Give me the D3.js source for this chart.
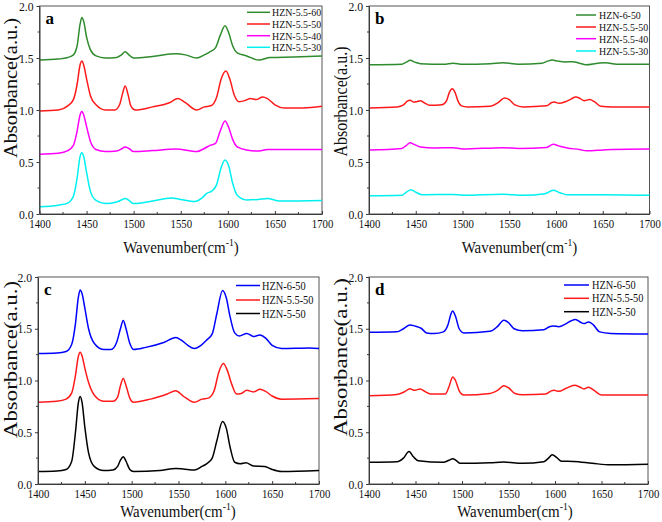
<!DOCTYPE html>
<html><head><meta charset="utf-8">
<script src="https://cdn.jsdelivr.net/npm/d3@7"></script>
<style>body{margin:0;background:#fff}svg{display:block}text{font-family:"Liberation Serif","Times New Roman",serif}</style>
</head><body><svg id="c" width="662" height="522"></svg>
<script>
// ---------- data ----------
const xTicks = [1400,1450,1500,1550,1600,1650,1700];
const yTicks = [0.0,0.5,1.0,1.5,2.0];
const panelLabels = ["a","b","c","d"];

const namesA = ["HZN-5.5-60","HZN-5.5-50","HZN-5.5-40","HZN-5.5-30"];
const namesB = ["HZN-6-50","HZN-5.5-50","HZN-5.5-40","HZN-5.5-30"];
const namesCD = ["HZN-6-50","HZN-5.5-50","HZN-5-50"];

const a_5560 = [[1400,1.48],[1420,1.49],[1430,1.505],[1436,1.53],[1440,1.62],[1443,1.82],[1445,1.89],[1447,1.85],[1450,1.70],[1454,1.58],[1460,1.52],[1470,1.50],[1482,1.505],[1487,1.53],[1491,1.56],[1495,1.53],[1500,1.50],[1520,1.515],[1545,1.54],[1555,1.53],[1567,1.50],[1575,1.53],[1581,1.56],[1587,1.60],[1592,1.72],[1597,1.81],[1601,1.74],[1605,1.62],[1610,1.55],[1620,1.52],[1633,1.48],[1645,1.505],[1670,1.51],[1700,1.52]];
const a_5550 = [[1400,0.99],[1420,1.00],[1430,1.04],[1436,1.10],[1440,1.25],[1443,1.43],[1445,1.47],[1447,1.43],[1450,1.30],[1454,1.14],[1460,1.05],[1470,1.00],[1480,1.00],[1485,1.05],[1488,1.15],[1491,1.23],[1494,1.15],[1497,1.04],[1502,1.00],[1520,1.03],[1538,1.07],[1547,1.11],[1555,1.07],[1567,1.00],[1575,1.03],[1582,1.04],[1588,1.12],[1593,1.30],[1598,1.375],[1602,1.30],[1607,1.14],[1612,1.08],[1618,1.09],[1624,1.11],[1630,1.10],[1637,1.125],[1642,1.11],[1650,1.05],[1660,1.02],[1680,1.02],[1700,1.035]];
const a_5540 = [[1400,0.575],[1420,0.585],[1430,0.61],[1436,0.66],[1440,0.80],[1443,0.95],[1445,0.985],[1447,0.95],[1450,0.84],[1454,0.70],[1460,0.62],[1470,0.60],[1482,0.605],[1487,0.625],[1491,0.645],[1495,0.63],[1500,0.60],[1520,0.61],[1545,0.625],[1567,0.60],[1575,0.63],[1581,0.66],[1587,0.68],[1592,0.80],[1597,0.895],[1601,0.83],[1605,0.72],[1610,0.645],[1620,0.615],[1633,0.605],[1642,0.62],[1670,0.62],[1700,0.62]];
const a_5530 = [[1400,0.07],[1420,0.085],[1430,0.105],[1436,0.17],[1440,0.35],[1443,0.55],[1445,0.59],[1447,0.55],[1450,0.40],[1454,0.22],[1460,0.13],[1470,0.10],[1482,0.115],[1487,0.135],[1491,0.15],[1495,0.13],[1500,0.10],[1520,0.125],[1540,0.155],[1550,0.14],[1565,0.12],[1572,0.15],[1578,0.20],[1583,0.22],[1588,0.28],[1593,0.45],[1597,0.52],[1601,0.46],[1605,0.30],[1610,0.18],[1620,0.135],[1632,0.14],[1642,0.15],[1655,0.125],[1700,0.13]];

const b_650 = [[1400,1.435],[1435,1.44],[1440,1.46],[1444,1.478],[1449,1.46],[1455,1.445],[1480,1.44],[1490,1.45],[1500,1.44],[1530,1.445],[1543,1.455],[1560,1.44],[1585,1.45],[1591,1.47],[1596,1.48],[1602,1.47],[1610,1.462],[1618,1.465],[1625,1.45],[1632,1.435],[1645,1.45],[1653,1.455],[1665,1.44],[1700,1.44]];
const b_5550 = [[1400,1.02],[1430,1.03],[1437,1.05],[1441,1.085],[1444,1.093],[1448,1.075],[1451,1.08],[1455,1.09],[1459,1.07],[1465,1.045],[1478,1.05],[1483,1.09],[1486,1.17],[1489,1.205],[1492,1.17],[1495,1.09],[1499,1.04],[1505,1.03],[1530,1.035],[1538,1.07],[1545,1.115],[1550,1.10],[1556,1.05],[1565,1.03],[1590,1.04],[1595,1.07],[1598,1.078],[1603,1.065],[1610,1.08],[1616,1.105],[1621,1.125],[1626,1.11],[1630,1.09],[1636,1.10],[1641,1.08],[1648,1.035],[1660,1.03],[1700,1.03]];
const b_5540 = [[1400,0.615],[1435,0.63],[1440,0.66],[1444,0.686],[1448,0.67],[1455,0.645],[1470,0.635],[1490,0.638],[1500,0.625],[1543,0.638],[1560,0.63],[1590,0.64],[1597,0.67],[1603,0.655],[1612,0.635],[1625,0.62],[1633,0.607],[1650,0.615],[1660,0.62],[1700,0.625]];
const b_5530 = [[1400,0.175],[1435,0.18],[1440,0.21],[1445,0.234],[1450,0.21],[1457,0.185],[1490,0.188],[1500,0.18],[1543,0.19],[1565,0.18],[1588,0.195],[1597,0.228],[1604,0.205],[1612,0.185],[1650,0.185],[1700,0.18]];

const c_650 = [[1400,1.26],[1420,1.265],[1430,1.28],[1436,1.35],[1440,1.55],[1443,1.80],[1445,1.875],[1447,1.84],[1450,1.70],[1454,1.50],[1460,1.36],[1470,1.30],[1478,1.30],[1484,1.37],[1488,1.50],[1491,1.58],[1494,1.50],[1498,1.36],[1502,1.30],[1515,1.32],[1535,1.37],[1547,1.415],[1553,1.39],[1560,1.34],[1567,1.31],[1574,1.34],[1580,1.39],[1586,1.45],[1591,1.65],[1597,1.87],[1601,1.80],[1605,1.62],[1610,1.46],[1615,1.43],[1623,1.455],[1630,1.425],[1637,1.44],[1643,1.41],[1650,1.34],[1660,1.31],[1690,1.315],[1700,1.31]];
const c_5550 = [[1400,0.79],[1420,0.80],[1430,0.82],[1436,0.88],[1440,1.05],[1443,1.23],[1445,1.273],[1447,1.24],[1450,1.12],[1454,0.98],[1460,0.86],[1470,0.80],[1480,0.80],[1485,0.84],[1488,0.95],[1491,1.02],[1494,0.95],[1498,0.83],[1502,0.79],[1520,0.82],[1538,0.87],[1547,0.90],[1555,0.85],[1567,0.79],[1575,0.82],[1582,0.83],[1588,0.90],[1593,1.08],[1598,1.164],[1602,1.10],[1607,0.96],[1612,0.87],[1617,0.875],[1623,0.905],[1630,0.89],[1637,0.915],[1643,0.895],[1650,0.85],[1660,0.82],[1700,0.825]];
const c_550 = [[1400,0.12],[1420,0.125],[1430,0.14],[1436,0.22],[1440,0.50],[1443,0.78],[1445,0.846],[1447,0.79],[1450,0.55],[1454,0.30],[1460,0.17],[1470,0.13],[1480,0.135],[1485,0.17],[1488,0.23],[1491,0.264],[1494,0.22],[1498,0.14],[1502,0.12],[1530,0.13],[1547,0.15],[1555,0.145],[1567,0.135],[1575,0.17],[1580,0.195],[1586,0.25],[1591,0.42],[1597,0.605],[1601,0.54],[1605,0.36],[1610,0.21],[1616,0.195],[1622,0.205],[1630,0.175],[1642,0.17],[1650,0.14],[1660,0.12],[1700,0.13]];

const d_650 = [[1400,1.465],[1430,1.47],[1437,1.50],[1444,1.537],[1450,1.525],[1456,1.505],[1462,1.46],[1470,1.455],[1480,1.47],[1485,1.54],[1488,1.64],[1490,1.672],[1493,1.62],[1497,1.50],[1502,1.46],[1530,1.475],[1538,1.52],[1545,1.582],[1550,1.56],[1556,1.50],[1565,1.48],[1588,1.49],[1594,1.52],[1598,1.527],[1604,1.52],[1612,1.55],[1617,1.575],[1622,1.59],[1628,1.56],[1631,1.55],[1636,1.565],[1641,1.54],[1648,1.47],[1660,1.455],[1700,1.45]];
const d_5550 = [[1400,0.852],[1430,0.865],[1438,0.89],[1444,0.92],[1449,0.905],[1455,0.918],[1460,0.895],[1466,0.87],[1482,0.87],[1486,0.94],[1490,1.035],[1493,1.00],[1497,0.90],[1502,0.86],[1530,0.875],[1539,0.91],[1545,0.949],[1550,0.93],[1557,0.875],[1565,0.862],[1590,0.87],[1596,0.90],[1599,0.905],[1604,0.895],[1612,0.925],[1621,0.955],[1627,0.935],[1631,0.918],[1636,0.935],[1642,0.905],[1650,0.86],[1700,0.86]];
const d_550 = [[1400,0.21],[1430,0.215],[1437,0.25],[1443,0.315],[1448,0.26],[1453,0.225],[1480,0.21],[1486,0.23],[1490,0.245],[1494,0.225],[1498,0.20],[1530,0.205],[1545,0.212],[1565,0.20],[1588,0.215],[1593,0.25],[1597,0.283],[1602,0.255],[1607,0.22],[1620,0.218],[1640,0.20],[1660,0.185],[1700,0.19]];

// ---------- layout / style ----------
const GREEN="#2e8b2e", RED="#ff1a1a", MAG="#ff00ff", CYAN="#00f0f0", BLUE="#0000ff", BLACK="#000000";
const panels = [
  {label:panelLabels[0], x0:39.5, x1:322, yb:214, yt:6, names:namesA, series:[a_5560,a_5550,a_5540,a_5530], colors:[GREEN,RED,MAG,CYAN],
   leg:{lx0:247, lx1:270, tx:272, ys:[12.3,24,35.7,47.3], fs:11}, ytitle:{x:17,cy:88,len:140}, xtitle:{cx:181,y:252.5}},
  {label:panelLabels[1], x0:369, x1:649.5, yb:214, yt:6, names:namesB, series:[b_650,b_5550,b_5540,b_5530], colors:[GREEN,RED,MAG,CYAN],
   leg:{lx0:576, lx1:596, tx:599, ys:[15,27,38.7,51], fs:11}, ytitle:{x:347,cy:101.5,len:110}, xtitle:{cx:519.5,y:252.5}},
  {label:panelLabels[2], x0:38, x1:319, yb:484, yt:277, names:namesCD, series:[c_650,c_5550,c_550], colors:[BLUE,RED,BLACK],
   leg:{lx0:236, lx1:260, tx:262, ys:[285.5,300,313.5], fs:11.5}, ytitle:{x:17,cy:359.5,len:157}, xtitle:{cx:178,y:516.5}},
  {label:panelLabels[3], x0:369, x1:648, yb:484, yt:277, names:namesCD, series:[d_650,d_5550,d_550], colors:[BLUE,RED,BLACK],
   leg:{lx0:564, lx1:589, tx:592, ys:[285,298.3,311.7], fs:11.5}, ytitle:{x:347,cy:357,len:158}, xtitle:{cx:515,y:516.5}}
];

const svg = d3.select("#c");
const AX="#3a3a3a";

function squeeze(sel, f){ sel.each(function(){ const w=this.getComputedTextLength(); this.setAttribute("textLength", w*f); this.setAttribute("lengthAdjust","spacingAndGlyphs");}); }

panels.forEach(p=>{
  const x = d3.scaleLinear().domain([1400,1700]).range([p.x0,p.x1]);
  const y = d3.scaleLinear().domain([0,2]).range([p.yb,p.yt]);
  const g = svg.append("g");

  g.append("rect").attr("x",p.x0).attr("y",p.yt).attr("width",p.x1-p.x0).attr("height",p.yb-p.yt)
    .attr("fill","none").attr("stroke","#555").attr("stroke-width",1);

  const line = d3.line().x(d=>x(d[0])).y(d=>y(d[1])).curve(d3.curveMonotoneX);
  p.series.forEach((s,i)=>{
    g.append("path").datum(s).attr("d",line).attr("fill","none").attr("stroke",p.colors[i]).attr("stroke-width",1.5);
  });

  const xa = g.append("g").attr("transform",`translate(0,${p.yb})`)
    .call(d3.axisBottom(x).tickValues(xTicks).tickFormat(d3.format("d")).tickSizeInner(-3).tickSizeOuter(0).tickPadding(5));
  xa.select(".domain").attr("stroke",AX);
  xa.selectAll(".tick line").attr("stroke",AX);
  xa.selectAll("text").attr("font-size",12.5).attr("fill","#111").attr("font-family","Liberation Serif");
  const xminor = d3.range(1425,1700,50);
  g.selectAll(null).data(xminor).enter().append("line")
    .attr("x1",d=>x(d)).attr("x2",d=>x(d)).attr("y1",p.yb).attr("y2",p.yb-2).attr("stroke",AX);

  const ya = g.append("g").attr("transform",`translate(${p.x0},0)`)
    .call(d3.axisLeft(y).tickValues(yTicks).tickFormat(d3.format(".1f")).tickSizeInner(3).tickSizeOuter(0).tickPadding(3));
  ya.select(".domain").attr("stroke",AX);
  ya.selectAll(".tick line").attr("stroke",AX);
  ya.selectAll("text").attr("font-size",13).attr("fill","#111").attr("font-family","Liberation Serif");
  const yminor = [0.25,0.75,1.25,1.75];
  g.selectAll(null).data(yminor).enter().append("line")
    .attr("x1",p.x0).attr("x2",p.x0-2).attr("y1",d=>y(d)).attr("y2",d=>y(d)).attr("stroke",AX);

  squeeze(xa.selectAll("text"),0.86);
  squeeze(ya.selectAll("text"),0.9);

  g.append("text").attr("x",p.x0+6).attr("y",p.yt+18).attr("font-size",17).attr("font-weight","bold").text(p.label);

  p.names.forEach((n,i)=>{
    g.append("line").attr("x1",p.leg.lx0).attr("x2",p.leg.lx1).attr("y1",p.leg.ys[i]).attr("y2",p.leg.ys[i])
      .attr("stroke",p.colors[i]).attr("stroke-width",1.5);
    const t = g.append("text").attr("x",p.leg.tx).attr("y",p.leg.ys[i]).attr("dy","0.35em").attr("font-size",p.leg.fs).attr("fill","#111").text(n);
    squeeze(t,0.9);
  });

  g.append("text").attr("transform",`translate(${p.ytitle.x},${p.ytitle.cy}) rotate(-90)`)
    .attr("text-anchor","middle").attr("font-size",19).attr("fill","#111")
    .attr("textLength",p.ytitle.len).attr("lengthAdjust","spacingAndGlyphs").text("Absorbance(a.u.)");
  const xt = g.append("g").attr("transform",`translate(${p.xtitle.cx},${p.xtitle.y}) scale(0.88,1)`)
    .append("text").attr("x",0).attr("y",0).attr("text-anchor","middle").attr("font-size",17).attr("fill","#111");
  xt.append("tspan").text("Wavenumber(cm");
  xt.append("tspan").attr("dy",-7).attr("font-size",11).text("-1");
  xt.append("tspan").attr("dy",7).text(")");
});
</script></body></html>
